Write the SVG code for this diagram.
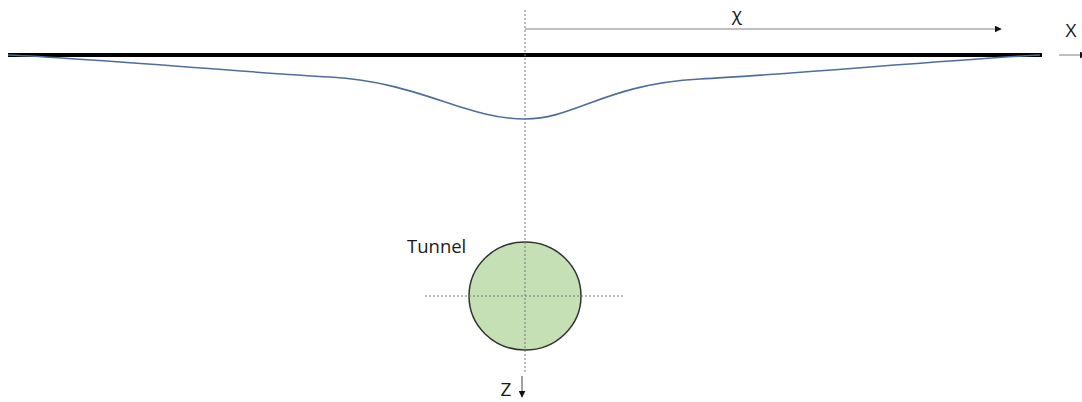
<svg xmlns="http://www.w3.org/2000/svg" width="1082" height="402" viewBox="0 0 1082 402">
<style>
.lbl{font-family:"Open Sans","Liberation Sans",sans-serif;fill:#1a1a1a}
.dash{stroke:#777;stroke-width:1;stroke-dasharray:2,2;fill:none}
.ax{stroke:#aaa;stroke-width:1.5;fill:none}
</style>
<defs>
<marker id="ah" viewBox="0 0 10 10" refX="9" refY="5" markerWidth="7" markerHeight="7" markerUnits="userSpaceOnUse" orient="auto">
<path d="M0,0 L10,5 L0,10 z" fill="#111"/>
</marker>
</defs>
<rect width="1082" height="402" fill="#fff"/>
<g id="ground">
<line x1="8" y1="55" x2="1042" y2="55" stroke="#000" stroke-width="4"/>
</g>
<g id="settlement">
<path d="M8,55 C100,59 240,72 330,77 C420,82 465,119 525,119 C575,119 605,84 700,79 C780,75 960,59 1040,55" fill="none" stroke="#4f6d9c" stroke-width="1.6"/>
</g>
<g id="tunnel">
<ellipse cx="525" cy="296" rx="56" ry="54" fill="#c5e0b4" stroke="#333" stroke-width="1.5"/>
<text class="lbl" x="407" y="253" font-size="18.5">Tunnel</text>
</g>
<g id="connectors">
<line class="dash" x1="525" y1="10" x2="525" y2="372"/>
<line class="dash" x1="425" y1="296" x2="624" y2="296"/>
<line class="ax" x1="525" y1="29" x2="1001" y2="29" marker-end="url(#ah)"/>
<line class="ax" x1="1059" y1="55" x2="1086" y2="55" marker-end="url(#ah)"/>
<line x1="522" y1="376" x2="522" y2="397" stroke="#444" stroke-width="1" marker-end="url(#ah)"/>
</g>
<g id="labels">
<text class="lbl" x="737" y="21" font-size="19" text-anchor="middle">χ</text>
<text class="lbl" x="1071" y="37" font-size="19" text-anchor="middle">X</text>
<text class="lbl" x="506" y="396" font-size="19" text-anchor="middle">Z</text>
</g>
</svg>
